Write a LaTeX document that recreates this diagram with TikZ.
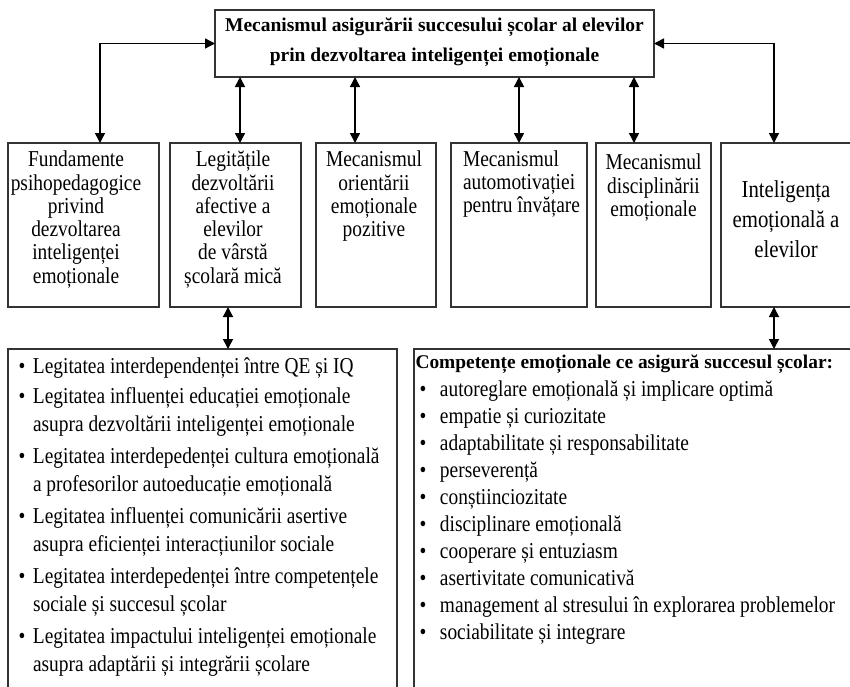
\documentclass[tikz,border=0pt]{standalone}
\usepackage{fontspec}
\setmainfont{Liberation Serif}
\newfontfamily\tallfont[FakeStretch=0.855]{Liberation Serif}
\usetikzlibrary{arrows.meta}
\newcommand{\rowfont}{\fontsize{22.7}{23.3}\tallfont}
\newcommand{\bigrowfont}{\fontsize{24.3}{30}\tallfont}
\newcommand{\ttlfont}{\fontsize{19.5}{30}\selectfont\bfseries}
\newcommand{\lfont}{\fontsize{22.7}{28.3}\tallfont}
\newcommand{\rfont}{\fontsize{22.7}{27.05}\tallfont}
\newcommand{\rhfont}{\fontsize{19.4}{27.05}\selectfont\bfseries}
\newcommand{\lbul}{\llap{•\hspace{7.6pt}}}
\newcommand{\rbul}{\llap{•\hspace{13.6pt}}}
\tikzset{
  box/.style={draw=black!80, line width=1.1pt, inner sep=0pt, outer sep=0pt, anchor=north west},
  txt/.style={inner sep=0pt, outer sep=0pt, align=center, anchor=north, font=\rowfont},
  li/.style={inner sep=0pt, outer sep=0pt, align=left, anchor=north west, font=\lfont},
  conn/.style={line width=1.5pt, draw=black,
    {Triangle[length=10pt,width=10pt]}-{Triangle[length=10pt,width=10pt]}}
}
\begin{document}
\begin{tikzpicture}[x=1pt,y=-1pt]
\useasboundingbox (0,0) rectangle (850,686);
\fill[white] (0,0) rectangle (850,686);
\clip (0,0) rectangle (850,686);

% boxes
\node[box, minimum width=439, minimum height=67] (title) at (215,10) {};
\node[box, minimum width=151, minimum height=164] (b1) at (8,143) {};
\node[box, minimum width=131, minimum height=164] (b2) at (170,143) {};
\node[box, minimum width=120, minimum height=164] (b3) at (316,143) {};
\node[box, minimum width=136, minimum height=164] (b4) at (451,143) {};
\node[box, minimum width=115, minimum height=164] (b5) at (596,143) {};
\node[box, minimum width=131, minimum height=164] (b6) at (721,143) {};
\node[box, minimum width=389, minimum height=360] (botL) at (8,349) {};
\node[box, minimum width=450, minimum height=360] (botR) at (414,349) {};

% texts
\node[txt, font=\ttlfont] (titletext) at (434.5,10) {\strut Mecanismul asigurării succesului școlar al elevilor\\prin dezvoltarea inteligenței emoționale};
\node[txt] (t1) at (76,150.4) {\strut Fundamente\\psihopedagogice\\privind\\dezvoltarea\\inteligenței\\emoționale};
\node[txt] (t2) at (233,150.4) {\strut Legitățile\\dezvoltării\\afective a\\elevilor\\de vârstă\\școlară mică};
\node[txt] (t3) at (374,150.4) {\strut Mecanismul\\orientării\\emoționale\\pozitive};
\node[txt, align=left, anchor=north west] (t4) at (463,150) {\strut Mecanismul\\automotivației\\pentru învățare};
\node[txt] (t5) at (653.5,153.5) {\strut Mecanismul\\disciplinării\\emoționale};
\node[txt, font=\bigrowfont] (t6) at (786,176) {\strut Inteligența\\emoțională a\\elevilor};

% left list
\node[li] (l1) at (33,353.3) {\strut\lbul Legitatea interdependenței între QE și IQ};
\node[li] (l2) at (33,383.3) {\strut\lbul Legitatea influenței educației emoționale\\asupra dezvoltării inteligenței emoționale};
\node[li] (l3) at (33,443.3) {\strut\lbul Legitatea interdepedenței cultura emoțională\\a profesorilor autoeducație emoțională};
\node[li] (l4) at (33,503.3) {\strut\lbul Legitatea influenței comunicării asertive\\asupra eficienței interacțiunilor sociale};
\node[li] (l5) at (33,563.3) {\strut\lbul Legitatea interdepedenței între competențele\\sociale și succesul școlar};
\node[li] (l6) at (33,623.3) {\strut\lbul Legitatea impactului inteligenței emoționale\\asupra adaptării și integrării școlare};

% right list
\node[li, font=\rhfont] (rh) at (415.5,349.4) {\strut Competențe emoționale ce asigură succesul școlar:};
\node[li, font=\rfont] (rl) at (440,377.1) {\strut\rbul autoreglare emoțională și implicare optimă\\
\rbul empatie și curiozitate\\
\rbul adaptabilitate și responsabilitate\\
\rbul perseverență\\
\rbul conștiinciozitate\\
\rbul disciplinare emoțională\\
\rbul cooperare și entuziasm\\
\rbul asertivitate comunicativă\\
\rbul management al stresului în explorarea problemelor\\
\rbul sociabilitate și integrare};

% connectors
\coordinate (a1) at ([xshift=16.5pt]b1.north);
\coordinate (a6) at ([xshift=-12.5pt]b6.north);
\coordinate (a2) at ([xshift=4.5pt]b2.north);
\coordinate (a3) at ([xshift=-21pt]b3.north);
\coordinate (a4) at (b4.north);
\coordinate (a5) at ([xshift=-19.5pt]b5.north);
\coordinate (c2) at ([xshift=-7.5pt]b2.south);
\coordinate (c6) at ([xshift=-12.5pt]b6.south);
\draw[conn] (title.west) -| (a1);
\draw[conn] (title.east) -| (a6);
\draw[conn] (a2 |- title.south) -- (a2);
\draw[conn] (a3 |- title.south) -- (a3);
\draw[conn] (a4 |- title.south) -- (a4);
\draw[conn] (a5 |- title.south) -- (a5);
\draw[conn] (c2) -- (c2 |- botL.north);
\draw[conn] (c6) -- (c6 |- botR.north);
\end{tikzpicture}
\end{document}
